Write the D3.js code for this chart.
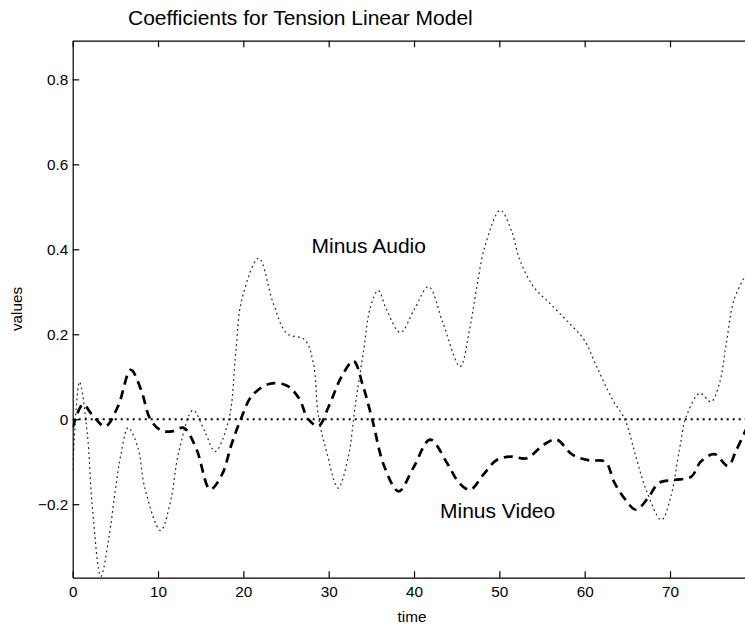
<!DOCTYPE html>
<html>
<head>
<meta charset="utf-8">
<script src="https://cdn.jsdelivr.net/npm/d3@7"></script>
<style>
  body { margin: 0; background: #fff; }
  svg { display: block; font-family: "Liberation Sans", Arial, Helvetica, sans-serif; }
  .axis path, .axis line { stroke: #000; stroke-width: 1.2; }
  .axis text { fill: #000; font-size: 15.3px; }
</style>
</head>
<body>
<svg id="chart"></svg>
<script>
const width = 745;
const height = 629;
const margin = { top: 40.7, left: 72.7, bottom: 577.7, right: 746.8 };

// axis limits and ticks
const xDomain = [0, 79];
const yDomain = [-0.373, 0.891];
const xTicks = [0, 10, 20, 30, 40, 50, 60, 70];
const yTicks = [-0.2, 0, 0.2, 0.4, 0.6, 0.8];

// Minus Audio curve (dotted)
const audioTime = [0, 0.8, 1.7, 2.3, 3.3, 4.2, 5.0, 5.6, 6.5, 7.6, 8.5, 10.3, 11.5, 12.4, 14.1, 15.5, 16.7,
  18.3, 19.1, 19.8, 21.8, 23.5, 25.1, 27.2, 28.2, 28.8, 29.8, 31.1, 32.3, 33.1, 34.1, 34.9, 35.8, 36.8,
  38.4, 40.0, 41.7, 43.4, 45.4, 46.5, 47.3, 48.3, 50.1, 51.4, 52.4, 54.0, 55.9, 58.2, 60.0, 61.4, 63.3,
  64.7, 66.0, 67.2, 69.0, 70.1, 71.1, 71.9, 73.5, 74.8, 75.8, 76.6, 77.5, 79];
const audioValue = [-0.12, 0.088, -0.032, -0.206, -0.37, -0.284, -0.166, -0.088, -0.02, -0.064, -0.166, -0.262,
  -0.19, -0.08, 0.021, -0.03, -0.076, 0.0, 0.155, 0.28, 0.379, 0.273, 0.202, 0.187, 0.132, 0.006, -0.08,
  -0.162, -0.088, 0.03, 0.163, 0.265, 0.303, 0.257, 0.204, 0.257, 0.312, 0.226, 0.124, 0.21, 0.304, 0.406,
  0.492, 0.445, 0.375, 0.312, 0.273, 0.226, 0.185, 0.124, 0.045, 0.0, -0.088, -0.166, -0.237, -0.182,
  -0.072, 0.006, 0.061, 0.041, 0.085, 0.179, 0.281, 0.345];

// Minus Video curve (dashed)
const videoTime = [0, 1.2, 2.3, 3.8, 5.3, 6.8, 8.0, 9.1, 10.4, 11.8, 13.0, 14.5, 16.1, 17.5, 18.6, 19.7, 21.0,
  23.0, 25.0, 26.5, 27.6, 28.8, 30.0, 31.5, 32.9, 34.0, 35.1, 36.5, 38.2, 39.9, 41.9, 43.9, 45.3, 46.6,
  48.1, 49.7, 51.4, 53.2, 55.2, 56.7, 58.6, 60.6, 62.4, 63.5, 64.8, 66.0, 67.4, 68.7, 70.5, 72.5, 73.6,
  75.2, 76.8, 77.7, 79];
const videoValue = [-0.02, 0.035, 0.01, -0.017, 0.03, 0.116, 0.07, 0.0, -0.027, -0.028, -0.02, -0.07, -0.165,
  -0.13, -0.06, 0.0, 0.055, 0.083, 0.08, 0.05, 0.0, -0.016, 0.03, 0.1, 0.137, 0.08, 0.0, -0.11, -0.17,
  -0.115, -0.048, -0.104, -0.15, -0.166, -0.131, -0.096, -0.088, -0.092, -0.06, -0.048, -0.084, -0.097,
  -0.1, -0.15, -0.19, -0.213, -0.186, -0.15, -0.143, -0.135, -0.1, -0.082, -0.11, -0.076, -0.02];

const svg = d3.select("#chart")
  .attr("width", width)
  .attr("height", height);

const x = d3.scaleLinear().domain(xDomain).range([margin.left, margin.right]);
const y = d3.scaleLinear().domain(yDomain).range([margin.bottom, margin.top]);

svg.append("clipPath")
  .attr("id", "plot-clip")
  .append("rect")
  .attr("x", margin.left)
  .attr("y", margin.top)
  .attr("width", margin.right - margin.left)
  .attr("height", margin.bottom - margin.top);

const plot = svg.append("g").attr("clip-path", "url(#plot-clip)");

const line = d3.line()
  .x(d => x(d[0]))
  .y(d => y(d[1]))
  .curve(d3.curveCatmullRom.alpha(0.5));

// zero line
plot.append("path")
  .attr("d", line([[xDomain[0], 0], [xDomain[1], 0]]))
  .attr("fill", "none")
  .attr("stroke", "#000")
  .attr("stroke-width", 2)
  .attr("stroke-dasharray", "2,4");

plot.append("path")
  .attr("d", line(audioTime.map((t, i) => [t, audioValue[i]])))
  .attr("fill", "none")
  .attr("stroke", "#222")
  .attr("stroke-width", 1.2)
  .attr("stroke-dasharray", "1.8,3.2");

plot.append("path")
  .attr("d", line(videoTime.map((t, i) => [t, videoValue[i]])))
  .attr("fill", "none")
  .attr("stroke", "#000")
  .attr("stroke-width", 2.7)
  .attr("stroke-dasharray", "9,6");

// axes with inward ticks
const fmt = d => d === 0 ? "0" : d3.format(".1f")(d);

svg.append("g")
  .attr("class", "axis")
  .attr("transform", `translate(0,${margin.bottom})`)
  .call(d3.axisBottom(x).tickValues(xTicks).tickSize(-6.5).tickSizeOuter(0).tickPadding(8.7));

svg.append("g")
  .attr("class", "axis")
  .attr("transform", `translate(0,${margin.top})`)
  .call(d3.axisTop(x).tickValues(xTicks).tickSize(-6.5).tickSizeOuter(0).tickFormat(""));

svg.append("g")
  .attr("class", "axis")
  .attr("transform", `translate(${margin.left},0)`)
  .call(d3.axisLeft(y).tickValues(yTicks).tickSize(-6.5).tickSizeOuter(0).tickPadding(4.5).tickFormat(fmt));

// texts
svg.append("text")
  .attr("x", 128)
  .attr("y", 25)
  .attr("font-size", "21px")
  .text("Coefficients for Tension Linear Model");

svg.append("text")
  .attr("x", 412)
  .attr("y", 622)
  .attr("text-anchor", "middle")
  .attr("font-size", "15.3px")
  .text("time");

svg.append("text")
  .attr("transform", "translate(22,309) rotate(-90)")
  .attr("text-anchor", "middle")
  .attr("font-size", "15.3px")
  .text("values");

svg.append("text")
  .attr("x", 311.5)
  .attr("y", 253)
  .attr("font-size", "21px")
  .text("Minus Audio");

svg.append("text")
  .attr("x", 440)
  .attr("y", 517.7)
  .attr("font-size", "21px")
  .text("Minus Video");
</script>
</body>
</html>
